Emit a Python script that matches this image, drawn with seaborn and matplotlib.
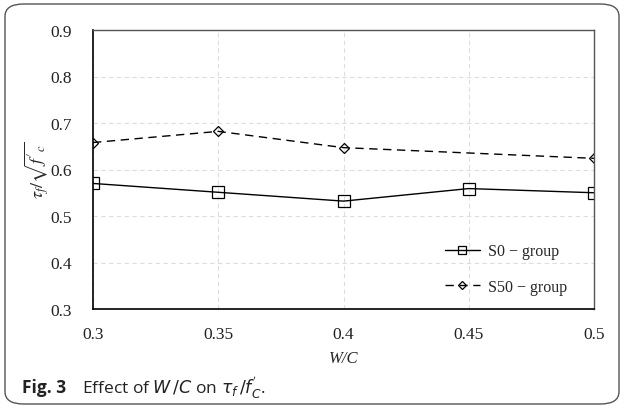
import matplotlib
matplotlib.use("Agg")
import matplotlib.pyplot as plt
from matplotlib.patches import FancyBboxPatch
import seaborn as sns

# -----------------------------
# DATA
# -----------------------------
wc_s0 = [0.30, 0.35, 0.40, 0.45, 0.50]
ratio_s0 = [0.570, 0.551, 0.532, 0.559, 0.550]

wc_s50 = [0.30, 0.35, 0.40, 0.50]
ratio_s50 = [0.658, 0.682, 0.647, 0.624]

x_ticks = [0.3, 0.35, 0.4, 0.45, 0.5]
x_tick_labels = ["0.3", "0.35", "0.4", "0.45", "0.5"]
y_ticks = [0.3, 0.4, 0.5, 0.6, 0.7, 0.8, 0.9]

# -----------------------------
# STYLE
# -----------------------------
sns.set_theme(style="white")
plt.rcParams["font.family"] = ["Liberation Serif", "DejaVu Serif"]
plt.rcParams["mathtext.fontset"] = "stix"

fig = plt.figure(figsize=(6.24, 4.10), dpi=100)
ax = fig.add_axes([93 / 624, 1 - 310 / 410, (594 - 93) / 624, (310 - 31) / 410])

sns.lineplot(x=wc_s0, y=ratio_s0, ax=ax, color="black", lw=1.0,
             marker="s", markersize=8, markerfacecolor="none",
             markeredgecolor="black", markeredgewidth=0.9, label="S0 − group")
sns.lineplot(x=wc_s50, y=ratio_s50, ax=ax, color="black", lw=1.0,
             linestyle=(0, (6, 4)), marker="D", markersize=5.5,
             markerfacecolor="none", markeredgecolor="black",
             markeredgewidth=0.9, label="S50 − group")

ax.set_xlim(0.3, 0.5)
ax.set_ylim(0.3, 0.9)
ax.set_xticks(x_ticks)
ax.set_xticklabels(x_tick_labels)
ax.set_yticks(y_ticks)
ax.set_yticklabels([f"{v:.1f}" for v in y_ticks])
ax.tick_params(labelsize=12.5, length=0, colors="#222222")
ax.tick_params(axis="y", pad=15)
ax.tick_params(axis="x", pad=12)

ax.grid(True, color="#dddddd", linestyle=(0, (4, 3)), lw=0.8)
for s in ["left", "bottom"]:
    ax.spines[s].set_color("black")
    ax.spines[s].set_linewidth(1.2)
for s in ["top", "right"]:
    ax.spines[s].set_color("#555555")
    ax.spines[s].set_linewidth(1.0)

ax.set_xlabel("W/C", fontsize=12, fontstyle="italic", labelpad=6)
ax.set_ylabel(r"$\tau_f/\sqrt{f'_c}$", fontsize=13, labelpad=0)

leg = ax.legend(loc="lower right", frameon=False, fontsize=11.5,
                handlelength=2.2, handletextpad=0.5, labelspacing=1.2,
                markerscale=0.8, bbox_to_anchor=(0.975, 0.0))

# caption
fig.text(22 / 624, 1 - 388 / 410, "Fig. 3", fontsize=12.5, fontweight="bold",
         family=["Open Sans", "DejaVu Sans"], va="center", color="#222222")
fig.text(82 / 624, 1 - 388 / 410, r"Effect of $W\,/C$ on $\tau_f\,/f^{'}_{C}$.",
         fontsize=12.5, family=["Open Sans", "DejaVu Sans"], va="center",
         color="#222222", math_fontfamily="dejavusans")

# rounded border
border = FancyBboxPatch((5 / 624, 5 / 410), 614 / 624, 400 / 410,
                        boxstyle="round,pad=0,rounding_size=0.03",
                        transform=fig.transFigure, fill=False,
                        edgecolor="#555555", lw=1.0)
fig.patches.append(border)

fig.savefig("out.png", dpi=100)
